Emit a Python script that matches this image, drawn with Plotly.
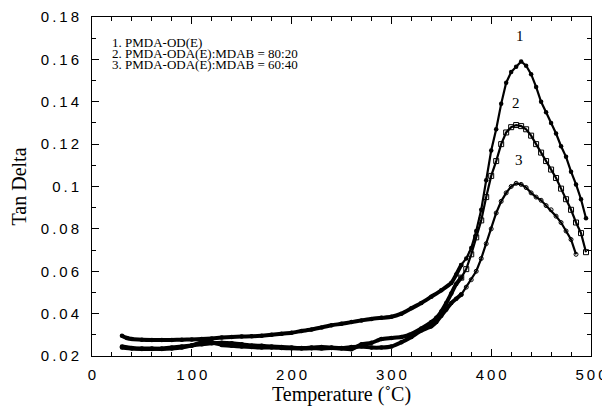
import plotly.graph_objects as go

# Curve 1: PMDA-OD(E)
t1 = [30, 35, 40, 50, 60, 70, 80, 90, 100, 110, 120, 130, 140, 150, 160, 170, 180, 190,
      200, 210, 220, 230, 240, 250, 260, 270, 280, 290, 300, 310, 320, 330, 340, 350,
      360, 365, 370, 375, 380, 385, 390, 395, 400, 405, 410, 415, 420, 425, 430, 435,
      440, 445, 450, 455, 460, 465, 470, 475, 480, 485, 490, 495]
v1 = [0.0295, 0.0285, 0.0280, 0.0277, 0.0276, 0.0276, 0.0276, 0.0277, 0.0278, 0.0280,
      0.0283, 0.0287, 0.0290, 0.0292, 0.0293, 0.0296, 0.0300, 0.0305, 0.0310, 0.0318,
      0.0325, 0.0335, 0.0345, 0.0352, 0.0360, 0.0368, 0.0375, 0.0380, 0.0385, 0.0400,
      0.0425, 0.0450, 0.0480, 0.0510, 0.0545, 0.0585, 0.0630, 0.0660, 0.0710, 0.0790,
      0.0890, 0.1030, 0.1170, 0.1270, 0.1390, 0.1490, 0.1540, 0.1565, 0.1590, 0.1570,
      0.1530, 0.1470, 0.1400, 0.1350, 0.1300, 0.1250, 0.1190, 0.1140, 0.1070, 0.1010,
      0.0940, 0.0850]

# Curve 2: PMDA-ODA(E):MDAB = 80:20
t2 = [30, 40, 50, 60, 70, 80, 90, 100, 110, 115, 120, 130, 140, 150, 160, 170, 180, 190,
      200, 210, 220, 230, 240, 250, 260, 270, 280, 290, 300, 310, 318, 330, 340, 345,
      350, 355, 360, 365, 370, 375, 380, 385, 390, 395, 400, 405, 410, 415, 420, 425,
      430, 435, 440, 445, 450, 455, 460, 465, 470, 475, 480, 485, 490, 495]
v2 = [0.0245, 0.0238, 0.0235, 0.0235, 0.0233, 0.0235, 0.0240, 0.0250, 0.0265, 0.0272,
      0.0265, 0.0252, 0.0248, 0.0245, 0.0243, 0.0240, 0.0240, 0.0238, 0.0236, 0.0235,
      0.0237, 0.0235, 0.0238, 0.0235, 0.0232, 0.0255, 0.0262, 0.0280, 0.0285, 0.0290,
      0.0300, 0.0330, 0.0360, 0.0380, 0.0410, 0.0450, 0.0495, 0.0540, 0.0570, 0.0610,
      0.0680, 0.0760, 0.0840, 0.0950, 0.1050, 0.1120, 0.1200, 0.1255, 0.1280, 0.1290,
      0.1285, 0.1270, 0.1240, 0.1200, 0.1160, 0.1120, 0.1080, 0.1040, 0.0990, 0.0940,
      0.0890, 0.0830, 0.0780, 0.0690]

# Curve 3: PMDA-ODA(E):MDAB = 60:40
t3 = [30, 40, 50, 60, 70, 80, 90, 100, 110, 120, 130, 140, 150, 160, 170, 180, 190, 200,
      210, 220, 230, 240, 250, 260, 270, 280, 290, 300, 310, 320, 330, 340, 345, 350,
      355, 360, 365, 370, 375, 380, 385, 390, 395, 400, 405, 410, 415, 420, 425, 430,
      435, 440, 445, 450, 455, 460, 465, 470, 475, 480, 485]
v3 = [0.0240, 0.0235, 0.0233, 0.0233, 0.0235, 0.0240, 0.0245, 0.0250, 0.0255, 0.0260,
      0.0262, 0.0260, 0.0255, 0.0250, 0.0248, 0.0245, 0.0242, 0.0240, 0.0238, 0.0240,
      0.0242, 0.0240, 0.0238, 0.0242, 0.0245, 0.0240, 0.0240, 0.0245, 0.0265, 0.0290,
      0.0320, 0.0340, 0.0360, 0.0390, 0.0420, 0.0450, 0.0470, 0.0490, 0.0525, 0.0560,
      0.0600, 0.0660, 0.0730, 0.0800, 0.0875, 0.0930, 0.0970, 0.1000, 0.1015, 0.1010,
      0.0995, 0.0970, 0.0950, 0.0935, 0.0910, 0.0890, 0.0860, 0.0830, 0.0790, 0.0750,
      0.0680]

y_ticks = [0.02, 0.04, 0.06, 0.08, 0.1, 0.12, 0.14, 0.16, 0.18]
y_tick_labels = ["0.02", "0.04", "0.06", "0.08", "0.1", "0.12", "0.14", "0.16", "0.18"]
x_ticks = [0, 100, 200, 300, 400, 500]
x_tick_labels = ["0", "100", "200", "300", "400", "500"]

legend_lines = ["1. PMDA-OD(E)", "2. PMDA-ODA(E):MDAB = 80:20", "3. PMDA-ODA(E):MDAB = 60:40"]
legend_y = [0.1682, 0.1630, 0.1578]
curve_labels = ["1", "2", "3"]
label_pos = [(429, 0.171), (424.5, 0.1394), (428, 0.1125)]

SP = "\u2009"


def spaced(s):
    return SP.join(list(s))


SPLIT_T = 370  # below: dense, merged data points (thick band); above: distinct markers

series = [
    (t1, v1, dict(symbol="circle", size=4.5, color="black")),
    (t2, v2, dict(symbol="square-open", size=5, color="black", line=dict(width=1))),
    (t3, v3, dict(symbol="circle-open", size=4, color="black", line=dict(width=1))),
]

fig = go.Figure()
for ts, vs, mk in series:
    lo = [i for i, t in enumerate(ts) if t <= SPLIT_T]
    hi = [i for i, t in enumerate(ts) if t >= SPLIT_T]
    fig.add_trace(go.Scatter(x=[ts[i] for i in lo], y=[vs[i] for i in lo],
                             mode="lines+markers",
                             line=dict(color="black", width=4, shape="spline", smoothing=0.6),
                             marker=dict(symbol="circle", size=4.5, color="black")))
    fig.add_trace(go.Scatter(x=[ts[i] for i in hi], y=[vs[i] for i in hi],
                             mode="lines+markers",
                             line=dict(color="black", width=2.2),
                             marker=mk))

for lab, (tx, ty) in zip(curve_labels, label_pos):
    fig.add_annotation(x=tx, y=ty, text=lab, showarrow=False,
                       font=dict(family="Liberation Serif", size=15, color="black"))

for line, ly in zip(legend_lines, legend_y):
    fig.add_annotation(x=19, y=ly, xanchor="left", yanchor="middle",
                       text=line, showarrow=False, borderpad=0,
                       font=dict(family="Liberation Serif", size=13, color="black"))

axis_common = dict(showline=True, linecolor="black", linewidth=1, mirror="allticks",
                   ticks="inside", tickcolor="black", showgrid=False, zeroline=False,
                   automargin=False,
                   tickfont=dict(family="Liberation Sans", size=15, color="black"),
                   title_font=dict(family="Liberation Serif", size=20, color="black"))

fig.update_xaxes(range=[0, 500], tickvals=x_ticks, ticktext=[spaced(s) for s in x_tick_labels],
                 ticklen=7, ticklabelstandoff=5,
                 minor=dict(dtick=20, ticks="inside", ticklen=4, tickcolor="black"),
                 title_text="Temperature (˚C)", title_standoff=3, **axis_common)
fig.update_yaxes(range=[0.02, 0.18], tickvals=y_ticks, ticktext=[spaced(s) for s in y_tick_labels],
                 ticklen=7, ticklabelstandoff=9,
                 minor=dict(dtick=0.01, tick0=0.02, ticks="inside", ticklen=4, tickcolor="black"),
                 title_text="Tan Delta", title_standoff=8, **axis_common)

# the page body adds an 8px offset, so the figure is sized to fit the window
fig.update_layout(width=602, height=399, showlegend=False,
                  margin=dict(l=84, r=19, t=9, b=51),
                  plot_bgcolor="white", paper_bgcolor="white")

fig.write_html("out.html")
